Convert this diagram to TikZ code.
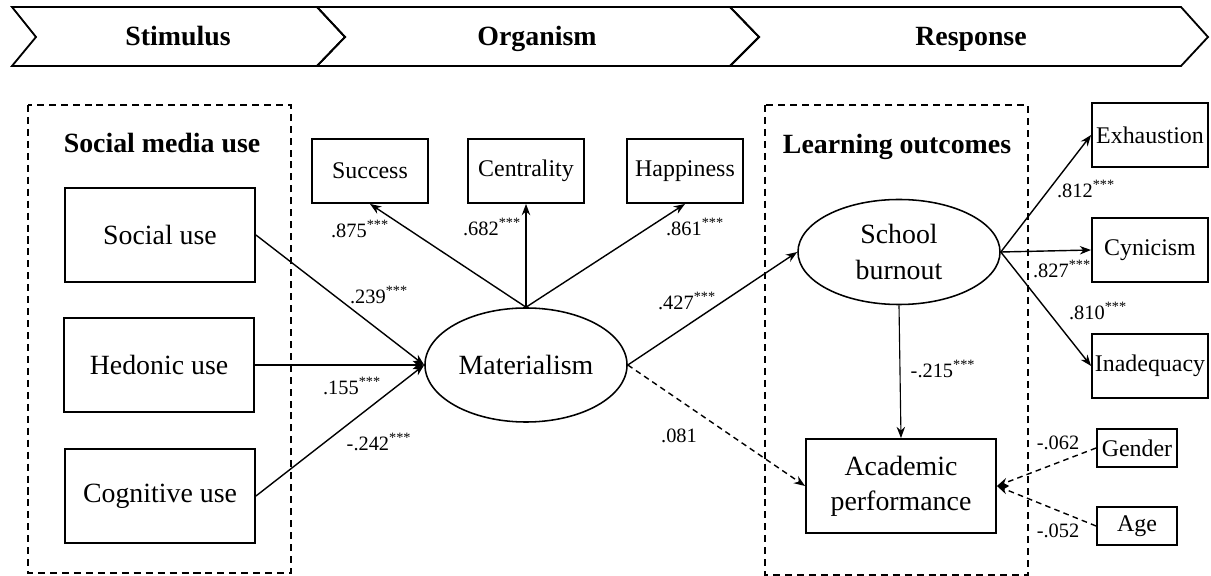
\documentclass[tikz,border=0pt]{standalone}
\usepackage{fontspec}
\setmainfont{Liberation Serif}
\usetikzlibrary{arrows.meta,shapes.geometric}

\begin{document}
\begin{tikzpicture}[x=0.025cm, y=-0.025cm,
        bigfont/.style={font=\fontsize{19.8}{25}\selectfont},
        varbox/.style={rectangle, draw, line width=1.3pt, minimum width=4.75cm, minimum height=2.35cm, align=center, bigfont},
        itembox/.style={rectangle, draw, line width=1.3pt, minimum width=2.9cm, minimum height=1.6cm, inner sep=1pt, font=\fontsize{17}{20}\selectfont},
        smallbox/.style={itembox, minimum width=2cm, minimum height=0.95cm},
        latent/.style={ellipse, draw, line width=1.1pt, minimum width=5.05cm, inner sep=0pt, align=center, bigfont},
        groupbox/.style={draw, line width=1.1pt, dash pattern=on 5pt off 3.5pt},
        stage/.style={draw, line width=1.3pt},
        heading/.style={font=\bfseries\fontsize{19.8}{24}\selectfont, inner sep=0pt, anchor=base},
        coef/.style={font=\fontsize{14.5}{16}\selectfont, inner sep=0pt},
        arrow/.style={-{Stealth[length=8pt,width=6pt]}, line width=1pt},
        dasharrow/.style={arrow, dash pattern=on 4pt off 3pt}
    ]
        \useasboundingbox (0,0) rectangle (1211,576);

        % S-O-R stages
        \draw[stage] (12,7) -- (317,7) -- (345,37) -- (317,66) -- (12,66) -- (36,37) -- cycle;
        \draw[stage] (317,7) -- (730,7) -- (759,37) -- (730,66) -- (317,66) -- (345,37) -- cycle;
        \draw[stage] (730,7) -- (1181,7) -- (1208,37) -- (1181,66) -- (730,66) -- (759,37) -- cycle;
        \node[heading] (stimulus) at (178,46) {Stimulus};
        \node[heading] (organism) at (537,46) {Organism};
        \node[heading] (response) at (971,46) {Response};

        % Groups
        \draw[groupbox] (28,105) rectangle (291,573);
        \draw[groupbox] (765,105) rectangle (1028,575);
        \node[heading] (usetitle) at (162,153) {Social media use};
        \node[heading] (outtitle) at (897,154) {Learning outcomes};

        % Stimulus
        \node[varbox] (social) at (160,235) {Social use};
        \node[varbox] (hedonic) at (159,365) {Hedonic use};
        \node[varbox] (cognitive) at (160,496) {Cognitive use};

        % Organism
        \node[latent, minimum height=2.85cm] (mat) at (526,365) {Materialism};
        \node[itembox] (success) at (370,171) {Success};
        \node[itembox] (centrality) at (526,171) {Centrality};
        \node[itembox] (happiness) at (685,171) {Happiness};

        % Response
        \node[latent, minimum height=2.625cm] (burnout) at (899,252) {School\\burnout};
        \node[varbox] (academic) at (901,486) {Academic\\performance};
        \node[itembox] (exhaustion) at (1150,135) {Exhaustion};
        \node[itembox] (cynicism) at (1150,250) {Cynicism};
        \node[itembox] (inadequacy) at (1150,366) {Inadequacy};
        \node[smallbox] (gender) at (1137,448) {Gender};
        \node[smallbox] (age) at (1137,526) {Age};

        % Paths
        \draw[arrow] (social.east) -- (mat.west);
        \draw[arrow] (hedonic.east) -- (mat.west);
        \draw[arrow] (cognitive.east) -- (mat.west);
        \draw[arrow] (mat.north) -- (success.south);
        \draw[arrow] (mat.north) -- (centrality.south);
        \draw[arrow] (mat.north) -- (happiness.south);
        \draw[arrow] (mat.east) -- (burnout.west);
        \draw[dasharrow] (mat.east) -- (academic.west);
        \draw[arrow] (burnout.east) -- (exhaustion.west);
        \draw[arrow] (burnout.east) -- (cynicism.west);
        \draw[arrow] (burnout.east) -- (inadequacy.west);
        \draw[arrow, line width=0.8pt] (burnout.south) -- (academic.north);
        \draw[dasharrow] (gender.west) -- (academic.east);
        \draw[dasharrow] (age.west) -- (academic.east);

        % Coefficients
        \node[coef] (c239) at (379,295) {.239\textsuperscript{***}};
        \node[coef] (c155) at (352,386) {.155\textsuperscript{***}};
        \node[coef] (c242) at (379,442) {-.242\textsuperscript{***}};
        \node[coef] (c875) at (360,229) {.875\textsuperscript{***}};
        \node[coef] (c682) at (492,227) {.682\textsuperscript{***}};
        \node[coef] (c861) at (695,227) {.861\textsuperscript{***}};
        \node[coef] (c427) at (687,301) {.427\textsuperscript{***}};
        \node[coef] (c081) at (679,436) {.081};
        \node[coef] (c215) at (943,369) {-.215\textsuperscript{***}};
        \node[coef] (c812) at (1086,189) {.812\textsuperscript{***}};
        \node[coef] (c827) at (1062,269) {.827\textsuperscript{***}};
        \node[coef] (c810) at (1098,311) {.810\textsuperscript{***}};
        \node[coef] (c062) at (1058,443) {-.062};
        \node[coef] (c052) at (1058,531) {-.052};
    \end{tikzpicture}
\end{document}
